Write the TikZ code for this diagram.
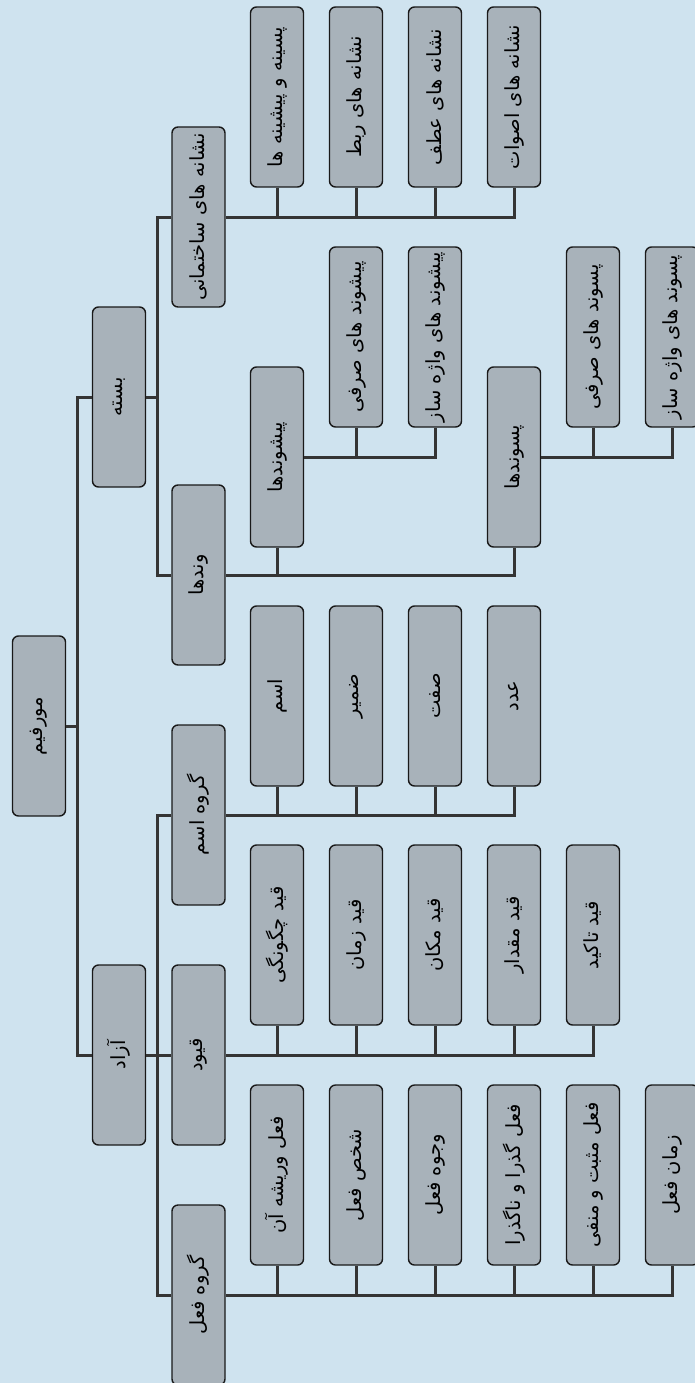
\documentclass[tikz,border=0pt]{standalone}
\usepackage{fontspec}
\usepackage{graphicx}
\usepackage{tikz}
\usetikzlibrary{calc}
\newfontfamily\farsi[Script=Arabic]{DejaVu Sans}
\TeXXeTstate=1
\definecolor{bgblue}{RGB}{207,227,239}
\definecolor{boxgray}{RGB}{168,178,186}
\definecolor{lngray}{RGB}{52,52,52}
\newcommand{\fa}[1]{\rotatebox{90}{\farsi\beginR #1\endR}}

\begin{document}
\begin{tikzpicture}[x=1pt, y=-1pt,
  bx/.style={draw=black!90, fill=boxgray, rounded corners=6pt, line width=1.4pt,
             minimum width=53pt, minimum height=180pt, inner sep=0pt,
             font=\fontsize{19.5}{22}\selectfont},
  ln/.style={draw=lngray, line width=3pt},
]
\clip (0,0) rectangle (695,1383);
\fill[bgblue] (0,0) rectangle (695,1383);

% root and first level
\node[bx] (root) at (39,726) {\fa{مورفیم}};
\node[bx] (bste) at (119,397) {\fa{بسته}};
\node[bx] (azad) at (119,1055) {\fa{آزاد}};

% second level
\node[bx] (sakht) at (198.5,217) {\fa{نشانه های ساختمانی}};
\node[bx] (vand) at (198.5,575) {\fa{وندها}};
\node[bx] (esm) at (198.5,815) {\fa{گروه اسم}};
\node[bx] (qyud) at (198.5,1055) {\fa{قیود}};
\node[bx] (feel) at (198.5,1295) {\fa{گروه فعل}};

% structural markers
\node[bx] (sk1) at (277,97) {\fa{پسینه و پیشینه ها}};
\node[bx] (sk2) at (356,97) {\fa{نشانه های ربط}};
\node[bx] (sk3) at (435,97) {\fa{نشانه های عطف}};
\node[bx] (sk4) at (514,97) {\fa{نشانه های اصوات}};

% affixes
\node[bx] (pish) at (277,457) {\fa{پیشوندها}};
\node[bx] (pw1) at (356,337) {\fa{پیشوند های صرفی}};
\node[bx] (pw2) at (435,337) {\fa{پیشوند های واژه ساز}};
\node[bx] (pas) at (514,457) {\fa{پسوندها}};
\node[bx] (sw1) at (593,337) {\fa{پسوند های صرفی}};
\node[bx] (sw2) at (672,337) {\fa{پسوند های واژه ساز}};

% noun group
\node[bx] (es1) at (277,696) {\fa{اسم}};
\node[bx] (es2) at (356,696) {\fa{ضمیر}};
\node[bx] (es3) at (435,696) {\fa{صفت}};
\node[bx] (es4) at (514,696) {\fa{عدد}};

% adverbs
\node[bx] (qd1) at (277,935) {\fa{قید چگونگی}};
\node[bx] (qd2) at (356,935) {\fa{قید زمان}};
\node[bx] (qd3) at (435,935) {\fa{قید مکان}};
\node[bx] (qd4) at (514,935) {\fa{قید مقدار}};
\node[bx] (qd5) at (593,935) {\fa{قید تاکید}};

% verb group
\node[bx] (fl1) at (277,1175) {\fa{فعل وریشه آن}};
\node[bx] (fl2) at (356,1175) {\fa{شخص فعل}};
\node[bx] (fl3) at (435,1175) {\fa{وجوه فعل}};
\node[bx] (fl4) at (514,1175) {\fa{فعل گذرا و ناگذرا}};
\node[bx] (fl5) at (593,1175) {\fa{فعل مثبت و منفی}};
\node[bx] (fl6) at (672,1175) {\fa{زمان فعل}};

% trunk
\draw[ln] (bste.west) -- ++(-14,0) coordinate (t0) |- (azad.west);
\draw[ln] (root.east) -- (root.east -| t0);

% bound branch
\draw[ln] (sakht.west) -- ++(-14,0) coordinate (t1) |- (vand.west);
\draw[ln] (bste.east) -- (bste.east -| t1);
\draw[ln] (sakht.east) -| (sk4.south);
\draw[ln] (sk1.south) -- (sk1.south |- sakht.east);
\draw[ln] (sk2.south) -- (sk2.south |- sakht.east);
\draw[ln] (sk3.south) -- (sk3.south |- sakht.east);
\draw[ln] (vand.east) -| (pas.south);
\draw[ln] (pish.south) -- (pish.south |- vand.east);
\draw[ln] (pish.east) -| (pw2.south);
\draw[ln] (pw1.south) -- (pw1.south |- pish.east);
\draw[ln] (pas.east) -| (sw2.south);
\draw[ln] (sw1.south) -- (sw1.south |- pas.east);

% free branch
\draw[ln] (esm.west) -- ++(-14,0) coordinate (t2) |- (feel.west);
\draw[ln] (azad.east) -- (qyud.west);
\draw[ln] (esm.east) -| (es4.south);
\draw[ln] (es1.south) -- (es1.south |- esm.east);
\draw[ln] (es2.south) -- (es2.south |- esm.east);
\draw[ln] (es3.south) -- (es3.south |- esm.east);
\draw[ln] (qyud.east) -| (qd5.south);
\draw[ln] (qd1.south) -- (qd1.south |- qyud.east);
\draw[ln] (qd2.south) -- (qd2.south |- qyud.east);
\draw[ln] (qd3.south) -- (qd3.south |- qyud.east);
\draw[ln] (qd4.south) -- (qd4.south |- qyud.east);
\draw[ln] (feel.east) -| (fl6.south);
\draw[ln] (fl1.south) -- (fl1.south |- feel.east);
\draw[ln] (fl2.south) -- (fl2.south |- feel.east);
\draw[ln] (fl3.south) -- (fl3.south |- feel.east);
\draw[ln] (fl4.south) -- (fl4.south |- feel.east);
\draw[ln] (fl5.south) -- (fl5.south |- feel.east);
\end{tikzpicture}
\end{document}
